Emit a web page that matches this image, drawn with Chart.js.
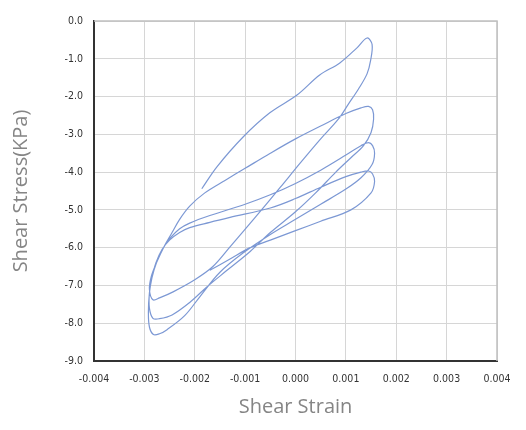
<!DOCTYPE html>
<html>
<head>
<meta charset="utf-8">
<script src="https://cdn.jsdelivr.net/npm/chart.js@4.4.0/dist/chart.umd.min.js"></script>
<style>
    html, body { margin: 0; padding: 0; background: #ffffff; }
    #wrap { width: 526px; height: 430px; }
</style>
</head>
<body>
<div id="wrap"><canvas id="myChart" width="526" height="430"></canvas></div>
<script>
// tick values and labels
var xTicks = [-0.004, -0.003, -0.002, -0.001, 0.000, 0.001, 0.002, 0.003, 0.004];
var xTickLabels = ['-0.004', '-0.003', '-0.002', '-0.001', '0.000', '0.001', '0.002', '0.003', '0.004'];
var yTicks = [-9, -8, -7, -6, -5, -4, -3, -2, -1, 0];
var yTickLabels = ['-9.0', '-8.0', '-7.0', '-6.0', '-5.0', '-4.0', '-3.0', '-2.0', '-1.0', '0.0'];

// branches of the loop, [strain, stress(KPa)]
var loading1 = [[-0.00186, -4.44], [-0.00156, -3.86], [-0.00104, -3.07], [-0.00051, -2.43], [0.00003, -1.96],
    [0.00048, -1.43], [0.00088, -1.11], [0.00122, -0.71], [0.00142, -0.45]];
var unloading1 = [[0.00152, -0.62], [0.00149, -1.05], [0.00142, -1.4], [0.00125, -1.8], [0.00105, -2.2],
    [0.00085, -2.6], [0.0005, -3.12], [0.0001, -3.75], [-0.0003, -4.4], [-0.0008, -5.2], [-0.0013, -5.98],
    [-0.00164, -6.5], [-0.0020, -6.85], [-0.00243, -7.17], [-0.0027, -7.33], [-0.00283, -7.38]];
var loading2 = [[-0.0029, -7.1], [-0.00286, -6.75], [-0.00276, -6.4], [-0.0026, -5.95], [-0.00245, -5.6],
    [-0.0023, -5.25], [-0.0021, -4.9], [-0.0018, -4.55], [-0.0014, -4.22], [-0.0010, -3.9], [-0.0005, -3.5],
    [0.0000, -3.12], [0.0005, -2.78], [0.0010, -2.45], [0.0013, -2.3], [0.00145, -2.26]];
var unloading2 = [[0.00153, -2.35], [0.00155, -2.6], [0.0015, -2.95], [0.00135, -3.3], [0.0011, -3.62],
    [0.0008, -4.0], [0.0004, -4.55], [0.0000, -5.05], [-0.0005, -5.6], [-0.0009, -6.1], [-0.00136, -6.6],
    [-0.00176, -7.04], [-0.0021, -7.45], [-0.00245, -7.78], [-0.0027, -7.88], [-0.00283, -7.87]];
var loading3 = [[-0.0029, -7.6], [-0.0029, -7.2], [-0.00285, -6.8], [-0.00276, -6.4], [-0.00262, -6.0],
    [-0.00249, -5.75], [-0.0023, -5.5], [-0.0021, -5.35], [-0.0017, -5.15], [-0.0010, -4.85], [-0.0005, -4.6],
    [0.0000, -4.3], [0.0005, -3.95], [0.0010, -3.55], [0.0013, -3.3], [0.00145, -3.22]];
var unloading3 = [[0.00153, -3.3], [0.00157, -3.5], [0.00152, -3.8], [0.0013, -4.15], [0.0010, -4.45],
    [0.0005, -4.85], [0.0000, -5.25], [-0.0005, -5.65], [-0.0010, -6.1], [-0.0015, -6.65], [-0.0019, -7.3],
    [-0.0022, -7.8], [-0.00255, -8.17], [-0.0027, -8.28], [-0.00282, -8.3]];
var loading4 = [[-0.0029, -8.1], [-0.00292, -7.7], [-0.0029, -7.2], [-0.00285, -6.8], [-0.00277, -6.4],
    [-0.00265, -6.05], [-0.0025, -5.8], [-0.0023, -5.6], [-0.0021, -5.47], [-0.0017, -5.33], [-0.0013, -5.2],
    [-0.0005, -4.95], [0.0000, -4.7], [0.0005, -4.4], [0.0010, -4.12], [0.0013, -4.0], [0.00145, -3.97]];
var unloading4 = [[0.00153, -4.05], [0.00157, -4.25], [0.0015, -4.55], [0.0011, -5.0], [0.0005, -5.3],
    [0.0000, -5.55], [-0.0005, -5.8], [-0.0009, -6.0], [-0.0013, -6.3], [-0.0017, -6.6]];

var branches = [loading1, unloading1, loading2, unloading2, loading3, unloading3, loading4, unloading4];

// join everything into one path
var pathPoints = [];
branches.forEach(function (branch) {
    branch.forEach(function (p) {
        pathPoints.push({ x: p[0], y: p[1] });
    });
});

var tickFont = { family: "'Liberation Sans Narrow', 'DejaVu Sans Condensed', sans-serif", size: 10.5 };
var titleFont = { family: "'Open Sans', sans-serif", size: 20 };

// light frame on top and right side
var framePlugin = {
    id: 'frame',
    afterDraw: function (chart) {
        var a = chart.chartArea;
        var ctx = chart.ctx;
        ctx.save();
        ctx.strokeStyle = '#c0c0c0';
        ctx.lineWidth = 1.5;
        ctx.beginPath();
        ctx.moveTo(a.left, a.top);
        ctx.lineTo(a.right, a.top);
        ctx.lineTo(a.right, a.bottom);
        ctx.stroke();
        ctx.restore();
    }
};

var myChart = new Chart(document.getElementById('myChart').getContext('2d'), {
    type: 'scatter',
    data: {
        datasets: [{
            data: pathPoints,
            showLine: true,
            borderColor: 'rgb(124, 152, 212)',
            borderWidth: 1.2,
            pointRadius: 0,
            tension: 0.35,
            fill: false
        }]
    },
    options: {
        responsive: false,
        animation: false,
        devicePixelRatio: 1,
        layout: { padding: { top: 21, right: 29, bottom: 0, left: 0 } },
        plugins: {
            legend: { display: false },
            tooltip: { enabled: false }
        },
        scales: {
            x: {
                type: 'linear',
                min: -0.004,
                max: 0.004,
                afterBuildTicks: function (scale) {
                    scale.ticks = xTicks.map(function (v) { return { value: v }; });
                },
                afterFit: function (scale) { scale.height = 69; },
                ticks: {
                    color: '#333',
                    font: tickFont,
                    padding: 12,
                    maxRotation: 0,
                    autoSkip: false,
                    callback: function (value, index) { return xTickLabels[index]; }
                },
                grid: { color: '#d6d6d6', lineWidth: 1, drawTicks: false },
                border: { color: '#333', width: 2 },
                title: {
                    display: true,
                    text: 'Shear Strain',
                    color: '#858585',
                    font: titleFont,
                    padding: { top: 0, bottom: 11 }
                }
            },
            y: {
                type: 'linear',
                min: -9,
                max: 0,
                afterBuildTicks: function (scale) {
                    scale.ticks = yTicks.map(function (v) { return { value: v }; });
                },
                afterFit: function (scale) { scale.width = 94; },
                ticks: {
                    color: '#333',
                    font: tickFont,
                    padding: 11,
                    callback: function (value, index) { return yTickLabels[index]; }
                },
                grid: { color: '#d6d6d6', lineWidth: 1, drawTicks: false },
                border: { color: '#333', width: 2 },
                title: {
                    display: true,
                    text: 'Shear Stress(KPa)',
                    color: '#858585',
                    font: titleFont,
                    padding: { top: 9, bottom: 0 }
                }
            }
        }
    },
    plugins: [framePlugin]
});
</script>
</body>
</html>
